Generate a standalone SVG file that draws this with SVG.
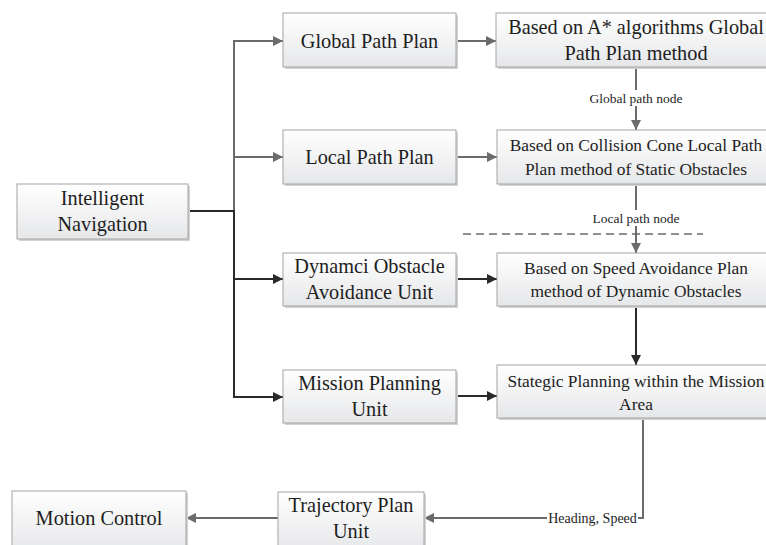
<svg xmlns="http://www.w3.org/2000/svg" width="766" height="545" viewBox="0 0 766 545">
<defs>
<linearGradient id="g" x1="0" y1="0" x2="0" y2="1">
<stop offset="0" stop-color="#ffffff"/>
<stop offset="1" stop-color="#e6e7e9"/>
</linearGradient>
<marker id="ag" viewBox="0 0 10 10" refX="10" refY="5" markerWidth="10" markerHeight="10" markerUnits="userSpaceOnUse" orient="auto">
<path d="M0,0 L10,5 L0,10 z" fill="#6b6b6b"/>
</marker>
<marker id="ad" viewBox="0 0 10 10" refX="10" refY="5" markerWidth="10" markerHeight="10" markerUnits="userSpaceOnUse" orient="auto">
<path d="M0,0 L10,5 L0,10 z" fill="#2a2a2a"/>
</marker>
</defs>
<style>
.box{fill:url(#g);stroke:#a3a3a3;stroke-width:1}
.sh{fill:#d2d2d2}
.t{font-family:"Liberation Serif","Times New Roman",serif;fill:#1e1e1e;text-anchor:middle}
.b{font-size:20.3px}
.m{font-size:17.4px}
.s{font-size:13.5px}
.cg{stroke:#6b6b6b;stroke-width:2;fill:none}
.cd{stroke:#2a2a2a;stroke-width:2;fill:none}
.lbl{fill:#ffffff}
</style>
<rect width="766" height="545" fill="#ffffff"/>

<g id="connectors">
<path class="cg" d="M234,211 V41 H283" marker-end="url(#ag)"/>
<path class="cg" d="M234,157 H283" marker-end="url(#ag)"/>
<path class="cd" d="M188,211 H234 V397 H283" marker-end="url(#ad)"/>
<path class="cd" d="M234,279 H283" marker-end="url(#ad)"/>
<path class="cg" d="M456,41 H496" marker-end="url(#ag)"/>
<path class="cg" d="M456,157 H497" marker-end="url(#ag)"/>
<path class="cd" d="M456,279 H497" marker-end="url(#ad)"/>
<path class="cd" d="M456,396 H497" marker-end="url(#ad)"/>
<path class="cg" d="M636,67 V130" marker-end="url(#ag)"/>
<path class="cg" d="M636,184 V253" marker-end="url(#ag)"/>
<path class="cd" d="M636,306 V365" marker-end="url(#ad)"/>
<path class="cg" d="M643,418 V518 H424" marker-end="url(#ag)"/>
<path class="cg" d="M278,518 H186" marker-end="url(#ag)"/>
<line x1="463" y1="234" x2="703" y2="234" stroke="#6b6b6b" stroke-width="1.5" stroke-dasharray="8,5"/>
<rect class="lbl" x="589" y="90" width="95" height="16"/>
<text class="t s" x="636" y="102.5">Global path node</text>
<rect class="lbl" x="588" y="210" width="96" height="16"/>
<text class="t s" x="636" y="222.5">Local path node</text>
<rect class="lbl" x="547" y="510" width="91" height="16"/>
<text class="t s" x="592.5" y="522.5" style="font-size:14px">Heading, Speed</text>
</g>

<g id="intelligent-navigation">
<rect class="sh" x="19" y="186" width="171" height="55"/>
<rect class="box" x="17" y="184" width="171" height="55"/>
<text class="t b" x="102.5" y="205">Intelligent</text>
<text class="t b" x="102.5" y="231">Navigation</text>
</g>

<g id="global-path-plan">
<rect class="sh" x="285" y="15" width="173" height="54"/>
<rect class="box" x="283" y="13" width="173" height="54"/>
<text class="t b" x="369.5" y="47.5">Global Path Plan</text>
</g>

<g id="local-path-plan">
<rect class="sh" x="285" y="132" width="173" height="54"/>
<rect class="box" x="283" y="130" width="173" height="54"/>
<text class="t b" x="369.5" y="163.5">Local Path Plan</text>
</g>

<g id="dynamic-obstacle-avoidance-unit">
<rect class="sh" x="285" y="255" width="173" height="53"/>
<rect class="box" x="283" y="253" width="173" height="53"/>
<text class="t b" x="369.5" y="272.5">Dynamci Obstacle</text>
<text class="t b" x="369.5" y="298.5">Avoidance Unit</text>
</g>

<g id="mission-planning-unit">
<rect class="sh" x="285" y="372" width="173" height="53"/>
<rect class="box" x="283" y="370" width="173" height="53"/>
<text class="t b" x="369.5" y="389.5">Mission Planning</text>
<text class="t b" x="369.5" y="415.5">Unit</text>
</g>

<g id="astar-global-path-plan">
<rect class="sh" x="498" y="15" width="280" height="54"/>
<rect class="box" x="496" y="13" width="280" height="54"/>
<text class="t b" x="636" y="33.5">Based on A* algorithms Global</text>
<text class="t b" x="636" y="59.5">Path Plan method</text>
</g>

<g id="collision-cone-local-path-plan">
<rect class="sh" x="499" y="132" width="280" height="54"/>
<rect class="box" x="497" y="130" width="280" height="54"/>
<text class="t m" x="636" y="151">Based on Collision Cone Local Path</text>
<text class="t m" x="636" y="175">Plan method of Static Obstacles</text>
</g>

<g id="speed-avoidance-plan">
<rect class="sh" x="499" y="255" width="280" height="53"/>
<rect class="box" x="497" y="253" width="280" height="53"/>
<text class="t m" x="636" y="274">Based on Speed Avoidance Plan</text>
<text class="t m" x="636" y="297">method of Dynamic Obstacles</text>
</g>

<g id="strategic-planning">
<rect class="sh" x="499" y="367" width="280" height="53"/>
<rect class="box" x="497" y="365" width="280" height="53"/>
<text class="t m" x="636" y="387">Stategic Planning within the Mission</text>
<text class="t m" x="636" y="410">Area</text>
</g>

<g id="trajectory-plan-unit">
<rect class="sh" x="280" y="494" width="146" height="60"/>
<rect class="box" x="278" y="492" width="146" height="60"/>
<text class="t b" x="351" y="511.5">Trajectory Plan</text>
<text class="t b" x="351" y="537.5">Unit</text>
</g>

<g id="motion-control">
<rect class="sh" x="14" y="493" width="174" height="60"/>
<rect class="box" x="12" y="491" width="174" height="60"/>
<text class="t b" x="99" y="524.5">Motion Control</text>
</g>
</svg>
